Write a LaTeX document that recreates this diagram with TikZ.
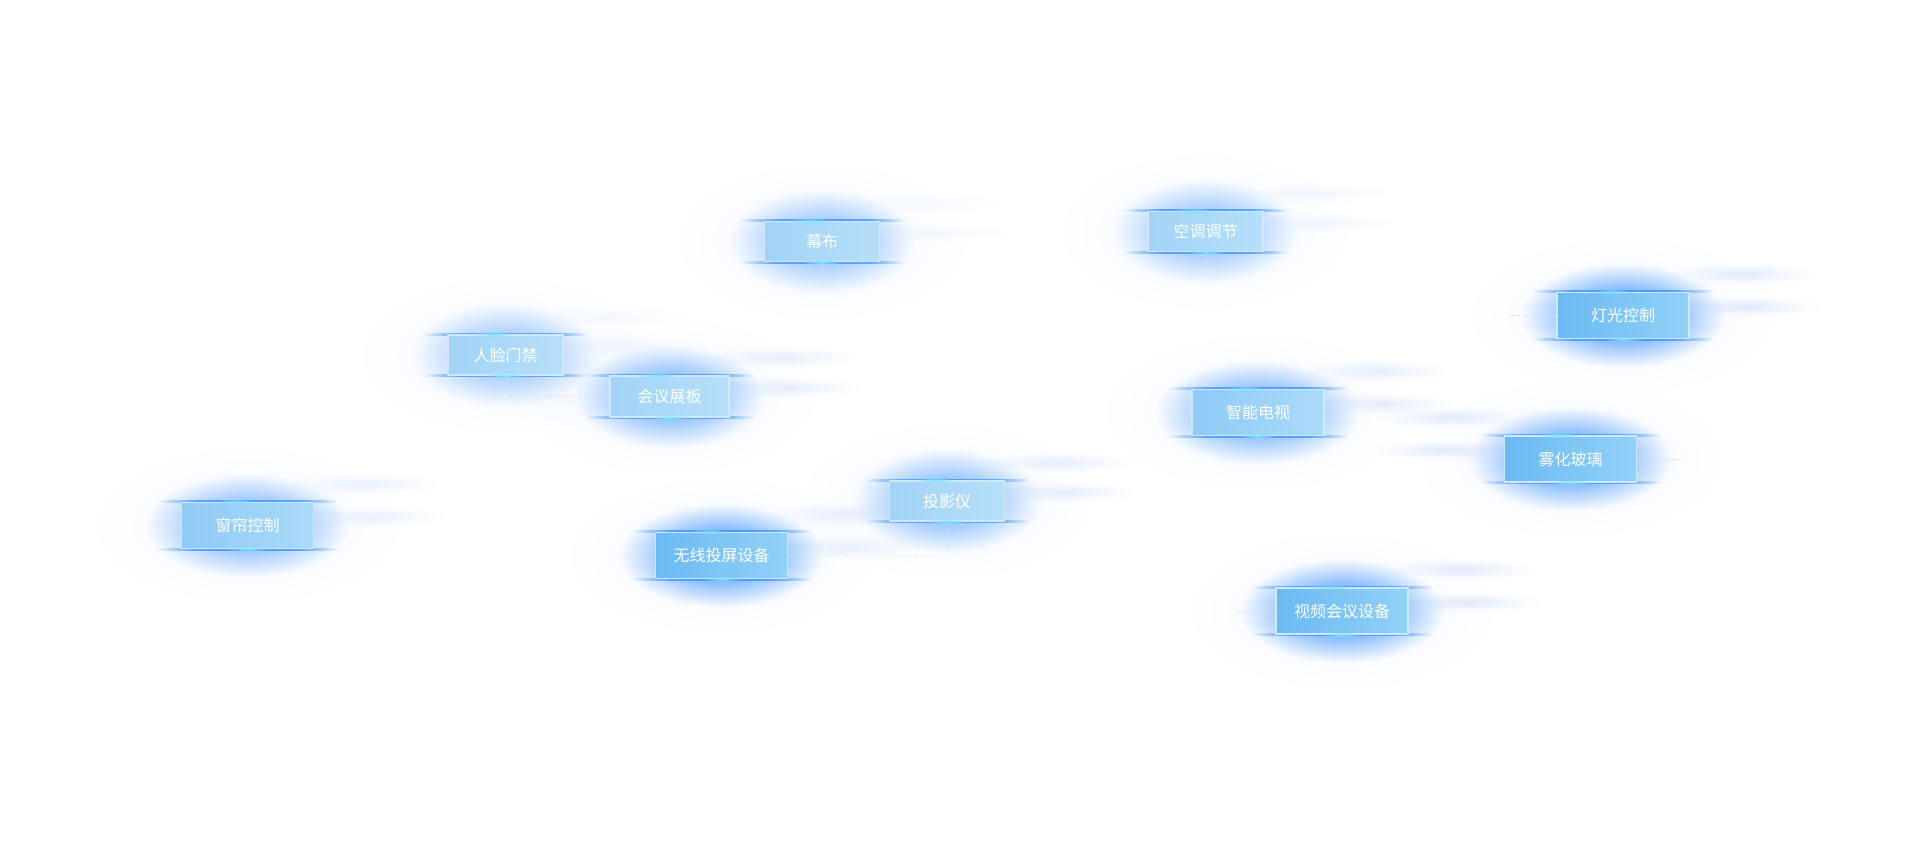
\documentclass[tikz,border=0pt]{standalone}
\usepackage{fontspec}
\setmainfont{Noto Sans CJK SC}
\usepackage{tikz}
\usetikzlibrary{calc}
\usetikzlibrary{fadings}
\pgfdeclarelayer{background}
\pgfsetlayers{background,main}
\definecolor{bigleft}{RGB}{106,186,243}
\definecolor{bigright}{RGB}{146,209,247}
\definecolor{midleft}{RGB}{142,203,246}
\definecolor{midright}{RGB}{170,218,248}
\definecolor{smallleft}{RGB}{162,211,246}
\definecolor{smallright}{RGB}{182,223,249}
\definecolor{rim}{RGB}{205,233,251}
\definecolor{dashline}{RGB}{215,228,241}
\definecolor{haloblue}{RGB}{90,160,245}
\definecolor{glowblue}{RGB}{28,126,248}
\definecolor{barblue}{RGB}{50,140,250}
\definecolor{sparkblue}{RGB}{130,225,255}
\definecolor{streakblue}{RGB}{175,200,245}
\tikzfading[name=glowfade, inner color=transparent!0, outer color=transparent!100]
\pgfdeclarehorizontalshading{barshade}{100bp}{color(0bp)=(black); color(25bp)=(black); color(36bp)=(white); color(64bp)=(white); color(75bp)=(black); color(100bp)=(black)}
\pgfdeclarefading{barfade}{\pgfuseshading{barshade}}
\tikzset{
    devbig/.style = {rectangle, draw=rim, line width=1.5pt, minimum width=132pt, minimum height=46pt, left color=bigleft, right color=bigright, text=white, inner sep=0pt},
    devmid/.style = {devbig, left color=midleft, right color=midright},
    devsmall/.style = {devbig, minimum width=115pt, minimum height=40pt, left color=smallleft, right color=smallright},
    link/.style = {draw=dashline, line width=1pt, dash pattern=on 4pt off 3pt},
    halo/.style = {fill=haloblue, path fading=glowfade, fill opacity=0.09},
    glow/.style = {fill=glowblue, path fading=glowfade},
    bar/.style = {fill=barblue, path fading=barfade, fill opacity=0.7},
    spark/.style = {fill=sparkblue, path fading=glowfade},
    streak/.style = {fill=streakblue, path fading=glowfade},
}

\begin{document}
\begin{tikzpicture}[x=1pt, y=-1pt, font=\fontsize{16pt}{16pt}\selectfont]
  \useasboundingbox (0,0) rectangle (1920,866);

  % devices
  \node[devsmall] (mubu) at (822,241.5) {幕布};
  \node[devsmall] (kongtiao) at (1205.5,231.5) {空调调节};
  \node[devbig] (dengguang) at (1623,315.5) {灯光控制};
  \node[devsmall] (renlian) at (505.5,355) {人脸门禁};
  \node[devsmall, minimum width=119pt, minimum height=41pt] (huiyi) at (669.5,396.5) {会议展板};
  \node[devmid] (dianshi) at (1258,412.5) {智能电视};
  \node[devbig] (wuhua) at (1570.5,459) {雾化玻璃};
  \node[devsmall] (touying) at (947,501) {投影仪};
  \node[devmid] (chuanglian) at (247.5,525.5) {窗帘控制};
  \node[devbig] (wuxian) at (721.5,555.5) {无线投屏设备};
  \node[devbig] (shipin) at (1342,611) {视频会议设备};

  % loose ends of the dashed links
  \coordinate (mubu-end) at (822,285);
  \coordinate (kongtiao-end) at (1205.5,278);
  \coordinate (dengguang-end) at (1510,315.5);
  \coordinate (wuhua-end) at (1680,459);
  \coordinate (dianshi-end) at (1162,412.5);
  \coordinate (chuanglian-end) at (155,525.5);
  \coordinate (shipin-end) at (1238,611);

  \draw[link] (mubu.south) -- (mubu-end);
  \draw[link] (kongtiao.south) -- (kongtiao-end);
  \draw[link] (dengguang.west) -- (dengguang-end);
  \draw[link] (wuhua.east) -- (wuhua-end);
  \draw[link] (dianshi.west) -- (dianshi-end);
  \draw[link] (chuanglian.west) -- (chuanglian-end);
  \draw[link] (shipin.west) -- (shipin-end);
  \draw[link] ([xshift=2pt]renlian.south) |- (huiyi.west);
  \draw[link, draw opacity=0.7] (wuxian.east) -| (touying.south);

  % glow round the boxes
  \begin{pgfonlayer}{background}
  \foreach \n/\hw/\g/\d/\s in {mubu/57/0.6/1/0.1, kongtiao/57/0.6/1/0.15,
      dengguang/66/1/1/0.35, renlian/57/0.55/1/0.1, huiyi/59/0.75/1/0.3,
      dianshi/66/0.8/1/0.3, wuhua/66/0.95/-1/0.35, touying/58/0.7/1/0.3,
      chuanglian/66/0.75/1/0.25, wuxian/66/1/1/0.25, shipin/66/1/1/0.35}{
    \fill[halo] (\n.center) ellipse [x radius={\hw+95}, y radius=82];
    \fill[glow, fill opacity=\g] (\n.center) ellipse [x radius={\hw+36}, y radius=52];
    \fill[streak, fill opacity=\s] ($(\n.north)+({\d*(\hw+55)},-18)$) ellipse [x radius=75, y radius=11];
    \fill[streak, fill opacity=\s] ($(\n.center)+({\d*(\hw+60)},-9)$) ellipse [x radius=75, y radius=10];
    \fill[bar] ($(\n.north west)+(-24,-1.5)$) rectangle ($(\n.north east)+(24,1.5)$);
    \fill[bar] ($(\n.south west)+(-24,-1.5)$) rectangle ($(\n.south east)+(24,1.5)$);
  }
  \end{pgfonlayer}
  \foreach \n in {mubu, kongtiao, dengguang, renlian, huiyi, dianshi, wuhua, touying, chuanglian, wuxian, shipin}{
    \fill[spark] ($(\n.north)+(-12,0)$) ellipse [x radius=20, y radius=3];
    \fill[spark] (\n.south) ellipse [x radius=20, y radius=3];
  }
\end{tikzpicture}
\end{document}
